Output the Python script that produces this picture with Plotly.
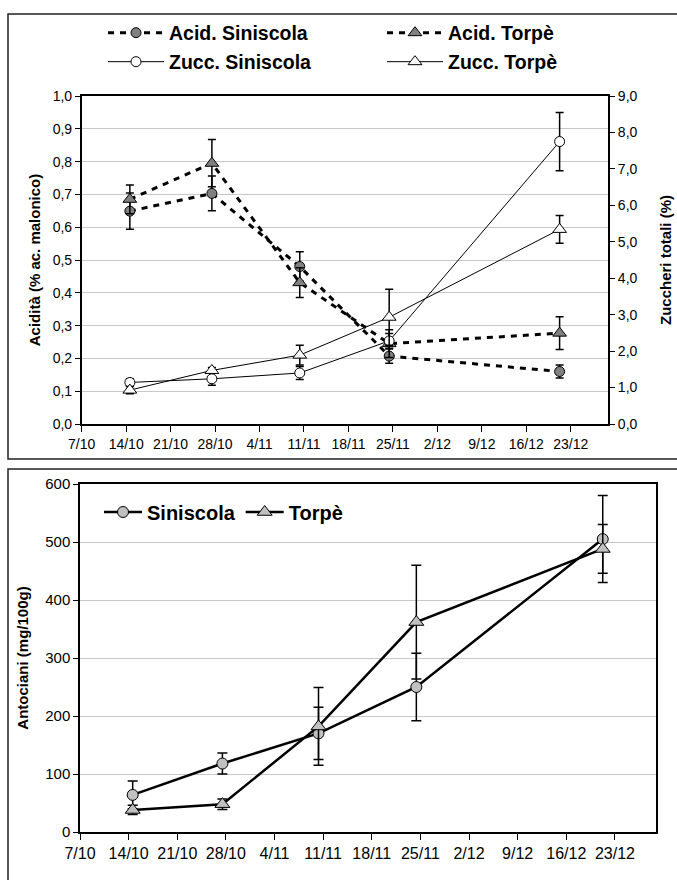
import plotly.graph_objects as go

# ---- data ----
dates = ["2008-10-14 14:00", "2008-10-27 12:00", "2008-11-10 08:00",
         "2008-11-24 10:00", "2008-12-21 06:00"]
x_start = "2008-10-07"
x_end = "2008-12-28 22:00"

acid_sin = [0.649, 0.703, 0.480, 0.207, 0.160]
acid_sin_err = [0.055, 0.053, 0.045, 0.022, 0.020]
acid_tor = [0.685, 0.795, 0.431, 0.245, 0.277]
acid_tor_err = [0.044, 0.072, 0.045, 0.042, 0.050]
zucc_sin = [1.14, 1.24, 1.40, 2.28, 7.75]
zucc_sin_err = [0.10, 0.18, 0.18, 0.20, 0.80]
zucc_tor = [0.93, 1.47, 1.89, 2.93, 5.34]
zucc_tor_err = [0.10, 0.08, 0.27, 0.77, 0.38]

anto_sin = [64, 118, 170, 250, 505]
anto_sin_err = [24, 18, 45, 58, 75]
anto_tor = [38, 48, 182, 362, 488]
anto_tor_err = [8, 9, 67, 98, 42]

W, H = 677, 880
FONT = "Liberation Sans, Arial, sans-serif"
GRID = "#c8c8c8"
WEEK = 7 * 24 * 3600 * 1000

fig = go.Figure()

def err(arr, w=4):
    return dict(type="data", array=arr, color="black", thickness=1.5, width=w)

# top chart
fig.add_trace(go.Scatter(
    x=dates, y=acid_sin, name="Acid. Siniscola", mode="lines+markers",
    line=dict(color="black", width=3, dash="6px,6px"),
    marker=dict(symbol="circle", size=10, color="#808080", line=dict(color="black", width=1)),
    error_y=err(acid_sin_err), xaxis="x", yaxis="y", legend="legend"))
fig.add_trace(go.Scatter(
    x=dates, y=acid_tor, name="Acid. Torpè", mode="lines+markers",
    line=dict(color="black", width=3, dash="6px,6px"),
    marker=dict(symbol="triangle-up", size=12, color="#808080", line=dict(color="black", width=1)),
    error_y=err(acid_tor_err), xaxis="x", yaxis="y", legend="legend"))
fig.add_trace(go.Scatter(
    x=dates, y=zucc_sin, name="Zucc. Siniscola", mode="lines+markers",
    line=dict(color="black", width=1),
    marker=dict(symbol="circle", size=10, color="white", line=dict(color="black", width=1)),
    error_y=err(zucc_sin_err), xaxis="x", yaxis="y2", legend="legend2"))
fig.add_trace(go.Scatter(
    x=dates, y=zucc_tor, name="Zucc. Torpè", mode="lines+markers",
    line=dict(color="black", width=1),
    marker=dict(symbol="triangle-up", size=12, color="white", line=dict(color="black", width=1)),
    error_y=err(zucc_tor_err), xaxis="x", yaxis="y2", legend="legend2"))

# bottom chart
fig.add_trace(go.Scatter(
    x=dates, y=anto_sin, name="Siniscola", mode="lines+markers",
    line=dict(color="black", width=2.5),
    marker=dict(symbol="circle", size=11, color="#c0c0c0", line=dict(color="black", width=1)),
    error_y=err(anto_sin_err, 5), xaxis="x2", yaxis="y3", legend="legend3"))
fig.add_trace(go.Scatter(
    x=dates, y=anto_tor, name="Torpè", mode="lines+markers",
    line=dict(color="black", width=2.5),
    marker=dict(symbol="triangle-up", size=13, color="#c0c0c0", line=dict(color="black", width=1)),
    error_y=err(anto_tor_err, 5), xaxis="x2", yaxis="y3", legend="legend3"))

xcommon = dict(type="date", range=[x_start, x_end], tick0=x_start, dtick=WEEK,
               tickformat="%-d/%-m", ticks="outside", ticklen=6, tickcolor="black",
               tickangle=0, automargin=False,
               showline=True, linecolor="black", linewidth=1.5, mirror=True,
               showgrid=False, zeroline=False)
ycommon = dict(ticks="outside", ticklen=5, tickcolor="black", showline=True,
               automargin=False,
               linecolor="black", linewidth=1.5, zeroline=False)

legcommon = dict(orientation="h", xanchor="left", yanchor="middle",
                 bgcolor="rgba(0,0,0,0)", itemclick=False,
                 font=dict(family=FONT, size=19.5, color="black", weight="bold"))

fig.update_layout(
    width=W, height=H, margin=dict(l=0, r=0, t=0, b=0, autoexpand=False),
    paper_bgcolor="white", plot_bgcolor="white",
    font=dict(family=FONT, color="black"),
    separators=",.",
    xaxis=dict(xcommon, domain=[81.7 / W, 608.3 / W], anchor="y",
               tickfont=dict(size=14)),
    yaxis=dict(ycommon, domain=[1 - 424 / H, 1 - 96 / H], anchor="x",
               range=[0, 1], dtick=0.1, tickformat=".1f",
               showgrid=True, gridcolor=GRID, gridwidth=1,
               tickfont=dict(size=14),
               title=dict(text="Acidità (% ac. malonico)", standoff=8,
                          font=dict(size=15, weight="bold"))),
    yaxis2=dict(ycommon, overlaying="y", side="right", anchor="x",
                range=[0, 9], dtick=1, tickformat=".1f", showgrid=False,
                tickfont=dict(size=14),
                title=dict(text="Zuccheri totali (%)", standoff=24,
                           font=dict(size=15, weight="bold"))),
    xaxis2=dict(xcommon, domain=[80 / W, 656 / W], anchor="y3",
                tickfont=dict(size=16)),
    yaxis3=dict(ycommon, domain=[1 - 832 / H, 1 - 484 / H], anchor="x2",
                mirror=True, range=[0, 600], dtick=100, tickformat="d",
                showgrid=True, gridcolor=GRID, gridwidth=1,
                tickfont=dict(size=15),
                title=dict(text="Antociani (mg/100g)", standoff=13,
                           font=dict(size=15, weight="bold"))),
    legend=dict(legcommon, x=103 / W, y=1 - 33 / H, itemwidth=56, entrywidth=208),
    legend2=dict(legcommon, x=103 / W, y=1 - 62 / H, itemwidth=56, entrywidth=208),
    legend3=dict(legcommon, x=99 / W, y=1 - 512 / H, itemwidth=38,
                 font=dict(family=FONT, size=20, color="black", weight="bold")),
    showlegend=True,
    shapes=[
        dict(type="rect", xref="paper", yref="paper", x0=8 / W, x1=1.02,
             y0=1 - 459 / H, y1=1 - 14 / H, line=dict(color="#222", width=1.5)),
        dict(type="rect", xref="paper", yref="paper", x0=8 / W, x1=1.02,
             y0=-0.02, y1=1 - 469 / H, line=dict(color="#222", width=1.5)),
    ],
)

fig.write_html("out.html", config={"displayModeBar": False},
               post_script="document.body.style.margin='0';")
